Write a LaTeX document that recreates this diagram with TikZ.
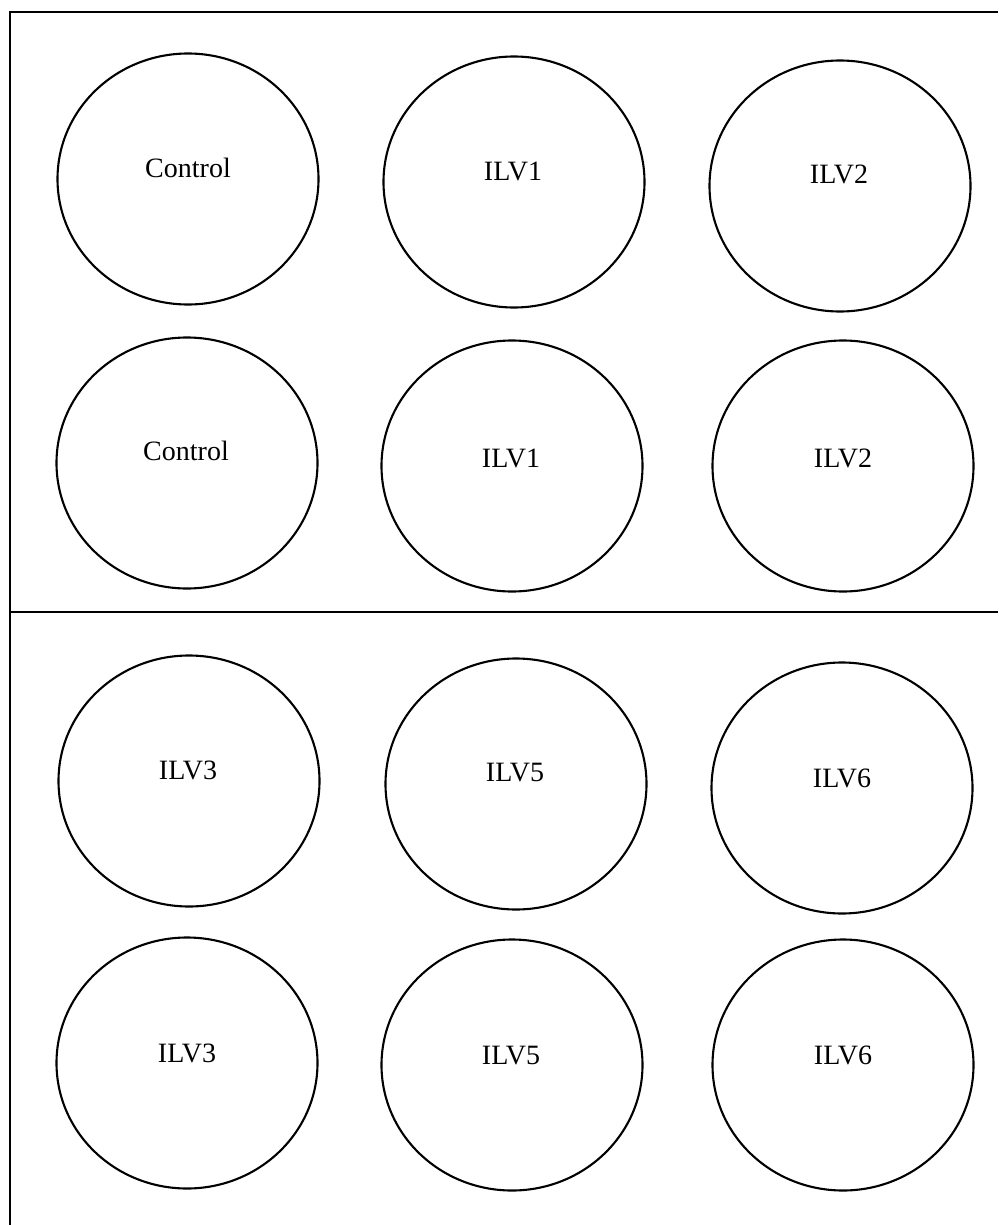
\documentclass[tikz,border=0pt]{standalone}
\usepackage{fontspec}
\setmainfont{Liberation Serif}
\usetikzlibrary{shapes.geometric}

\begin{document}
\begin{tikzpicture}[
      x=1pt, y=-1pt,
      well/.style={draw, ellipse, line width=2.1pt, minimum width=261pt,
                   minimum height=251pt, inner sep=0pt},
      lbl/.style={font=\fontsize{28}{32}\selectfont, inner sep=0pt},
      frame/.style={line width=2.3pt},
    ]
    \useasboundingbox (0,0) rectangle (998,1225);

    % ── plate outline ──
    \coordinate (tl) at (10,12);
    \coordinate (tr) at (998,12);
    \coordinate (ml) at (10,612);
    \coordinate (mr) at (998,612);
    \coordinate (bl) at (10,1225);
    \draw[frame] (tr) -- (tl) -- (bl);
    \draw[frame] (ml) -- (mr);

    % ── upper plate ──
    \node[well] (w11) at (188,179) {};
    \node[well] (w12) at (514,182) {};
    \node[well] (w13) at (840,186) {};
    \node[well] (w21) at (187,463) {};
    \node[well] (w22) at (512,466) {};
    \node[well] (w23) at (843,466) {};

    \node[lbl] (l11) at (188,168) {Control};
    \node[lbl] (l12) at (513,171) {ILV1};
    \node[lbl] (l13) at (839,174) {ILV2};
    \node[lbl] (l21) at (186,451) {Control};
    \node[lbl] (l22) at (511,458) {ILV1};
    \node[lbl] (l23) at (843,458) {ILV2};

    % ── lower plate ──
    \node[well] (w31) at (189,781) {};
    \node[well] (w32) at (516,784) {};
    \node[well] (w33) at (842,788) {};
    \node[well] (w41) at (187,1063) {};
    \node[well] (w42) at (512,1065) {};
    \node[well] (w43) at (843,1065) {};

    \node[lbl] (l31) at (188,770) {ILV3};
    \node[lbl] (l32) at (515,773) {ILV5};
    \node[lbl] (l33) at (842,778) {ILV6};
    \node[lbl] (l41) at (187,1053) {ILV3};
    \node[lbl] (l42) at (511,1056) {ILV5};
    \node[lbl] (l43) at (843,1055) {ILV6};
  \end{tikzpicture}
\end{document}
